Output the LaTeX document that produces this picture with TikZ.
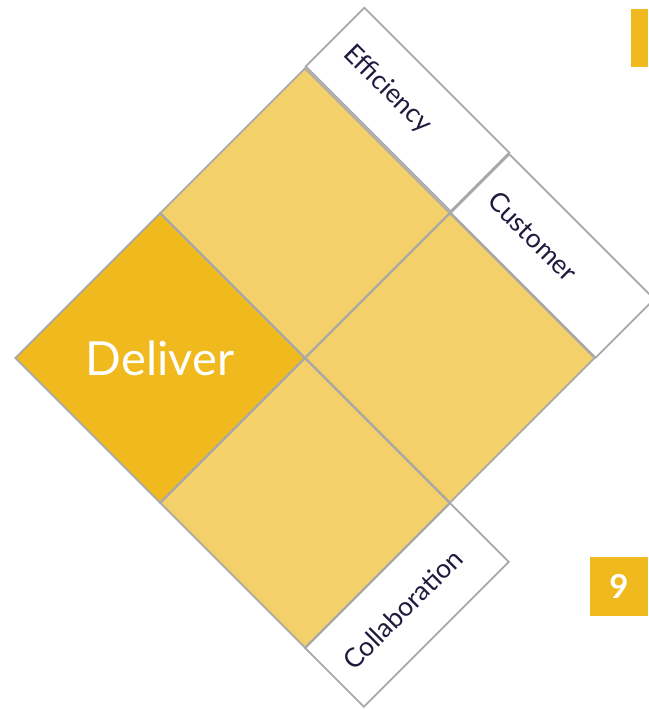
\documentclass[tikz,border=0pt]{standalone}
\usepackage{fontspec}
\setmainfont{Lato}
\usetikzlibrary{shapes.geometric}
\definecolor{gold}{HTML}{F0BA1E}
\definecolor{pale}{HTML}{F3D06A}
\definecolor{rim}{HTML}{A8A8A8}
\definecolor{ink}{HTML}{1E1B3E}
\def\clist{{(305,213)/upper}, {(450,358)/right}, {(305,503)/lower}}
\def\slist{{(407.5,109.5)/eff/-45/Efficiency}, {(552.5,256)/cust/-45/Customer}, {(407,605)/coll/45/Collaboration}}
\tikzstyle{cell}=[diamond, draw=rim, line width=1.8pt, fill=pale, minimum size=290pt, inner sep=0pt]
\tikzstyle{strip}=[rectangle, draw=rim, line width=1.8pt, fill=white, text=ink, text width=169pt, inner xsep=18pt, inner ysep=0pt, minimum height=83pt, align=left, font=\fontsize{26.5}{30}\selectfont]
\tikzstyle{tab}=[rectangle, fill=gold, inner sep=0pt]

\begin{document}
\begin{tikzpicture}[x=1pt, y=-1pt]
  \useasboundingbox (0,0) rectangle (648,709);
  \node[cell, fill=gold, text=white, font=\fontsize{47}{50}\selectfont] (deliver) at (160,358) {Deliver};
  \foreach \pos/\name in \clist {
    \node[cell] (\name) at \pos {};
  }
  \foreach \pos/\name/\ang/\txt in \slist {
    \node[strip, rotate=\ang] (\name) at \pos {\txt};
  }
  \node[tab, minimum width=17pt, minimum height=58pt] (bar) at (639.5,38) {};
  \node[tab, minimum width=58pt, minimum height=59pt, text=white, font=\bfseries\fontsize{33}{36}\selectfont] (page) at (619,586.5) {9};
\end{tikzpicture}
\end{document}
